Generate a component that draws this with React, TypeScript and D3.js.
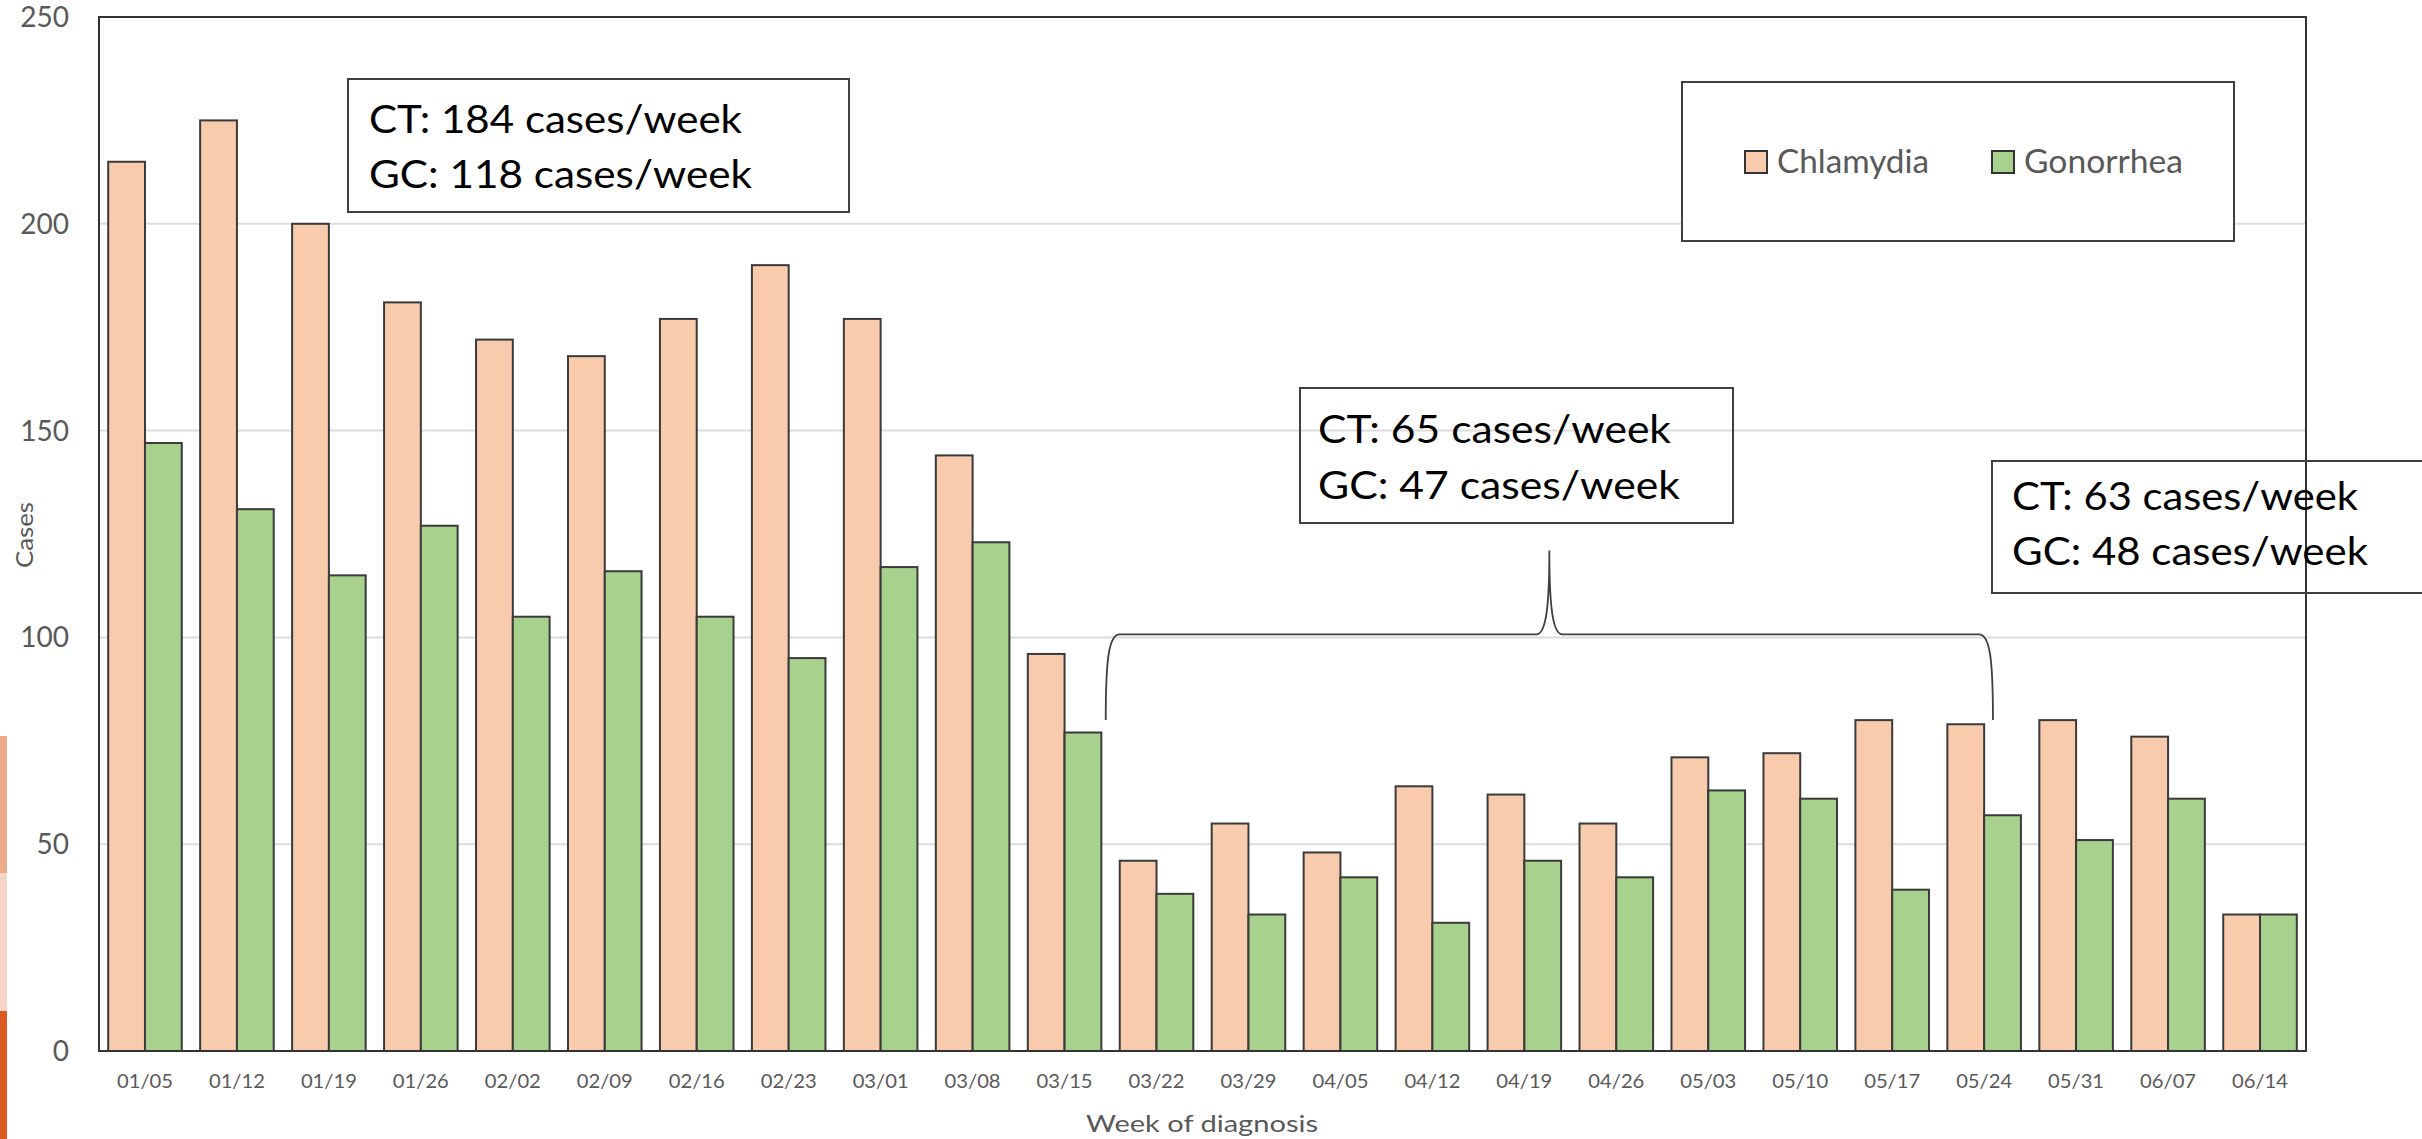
import React from "react";
import * as d3 from "d3";

const weeks = [
  "01/05", "01/12", "01/19", "01/26", "02/02", "02/09", "02/16", "02/23",
  "03/01", "03/08", "03/15", "03/22", "03/29", "04/05", "04/12", "04/19",
  "04/26", "05/03", "05/10", "05/17", "05/24", "05/31", "06/07", "06/14",
];
const chlamydia = [215, 225, 200, 181, 172, 168, 177, 190, 177, 144, 96, 46, 55, 48, 64, 62, 55, 71, 72, 80, 79, 80, 76, 33];
const gonorrhea = [147, 131, 115, 127, 105, 116, 105, 95, 117, 123, 77, 38, 33, 42, 31, 46, 42, 63, 61, 39, 57, 51, 61, 33];
const seriesNames = ["Chlamydia", "Gonorrhea"];
const seriesColors = ["#F8CBAD", "#A9D18E"];
const yTicks = [0, 50, 100, 150, 200, 250];

const W = 2422;
const H = 1139;
const FONT = "Lato, 'Open Sans', sans-serif";

export default function App() {
  const left = 99, right = 2306, top = 17, bottom = 1051;
  const x = d3.scaleBand<string>().domain(weeks).range([left, right]).paddingInner(0.2).paddingOuter(0.1);
  const xs = d3.scaleBand<string>().domain(seriesNames).range([0, x.bandwidth()]);
  const y = d3.scaleLinear().domain([0, 250]).range([bottom, top]);
  const series = [chlamydia, gonorrhea];

  // bracket over the low period
  const bx0 = (x("03/22") as number) - 14;
  const bx1 = (x("05/24") as number) + x.bandwidth() * 0.62;
  const bm = (bx0 + bx1) / 2;
  const by = y(100) - 3;
  const bb = y(80);
  const bt = y(121);
  const bp = d3.path();
  bp.moveTo(bx0, bb);
  bp.bezierCurveTo(bx0, by + 25, bx0 + 3, by, bx0 + 14, by);
  bp.lineTo(bm - 13, by);
  bp.bezierCurveTo(bm - 3, by, bm, by - 30, bm, bt);
  bp.bezierCurveTo(bm, by - 30, bm + 3, by, bm + 13, by);
  bp.lineTo(bx1 - 14, by);
  bp.bezierCurveTo(bx1 - 3, by, bx1, by + 25, bx1, bb);

  const annos = [
    { x: 348, y: 79, w: 501, h: 133, tx: 369, b1: 133, b2: 188, lines: ["CT: 184 cases/week", "GC: 118 cases/week"], lens: [373, 383] },
    { x: 1300, y: 388, w: 433, h: 135, tx: 1318, b1: 443, b2: 499, lines: ["CT: 65 cases/week", "GC: 47 cases/week"], lens: [353, 362] },
    { x: 1992, y: 461, w: 470, h: 132, tx: 2012, b1: 510, b2: 565, lines: ["CT: 63 cases/week", "GC: 48 cases/week"], lens: [346, 356] },
  ];

  const legendItems = [
    { name: seriesNames[0], color: seriesColors[0], sx: 1745, tx: 1777, len: 152 },
    { name: seriesNames[1], color: seriesColors[1], sx: 1992, tx: 2024, len: 159 },
  ];

  return (
    <svg width={W} height={H} style={{ position: "absolute", left: 0, top: 0, display: "block", background: "#fff" }} fontFamily={FONT}>
      <rect x={0} y={0} width={W} height={H} fill="#fff" />
      {/* left edge decoration */}
      <rect x={0} y={736} width={7} height={137} fill="#EBA98A" />
      <rect x={0} y={873} width={7} height={138} fill="#F6D6CB" />
      <rect x={0} y={1011} width={7} height={128} fill="#DC5A21" />

      {/* gridlines */}
      {yTicks.filter((t) => t > 0 && t < 250).map((t) => (
        <line key={t} x1={left} x2={right} y1={y(t)} y2={y(t)} stroke="#DCDCDC" strokeWidth={2} />
      ))}

      {/* bars */}
      {weeks.map((wk, i) => (
        <g key={wk}>
          {series.map((s, j) => (
            <rect
              key={j}
              x={(x(wk) as number) + (xs(seriesNames[j]) as number)}
              y={y(s[i])}
              width={xs.bandwidth()}
              height={y(0) - y(s[i])}
              fill={seriesColors[j]}
              stroke="#3a3a3a"
              strokeWidth={2}
            />
          ))}
        </g>
      ))}

      {/* frame */}
      <rect x={left} y={top} width={right - left} height={bottom - top} fill="none" stroke="#333" strokeWidth={2} />

      {/* y tick labels */}
      {yTicks.map((t) => (
        <text key={t} x={69} y={y(t)} dy="0.36em" textAnchor="end" fontSize={28} fill="#595959">{t}</text>
      ))}
      {/* x tick labels */}
      {weeks.map((wk) => (
        <text key={wk} x={(x(wk) as number) + x.bandwidth() / 2} y={1088} textAnchor="middle" fontSize={19} fill="#595959" textLength={56} lengthAdjust="spacingAndGlyphs">{wk}</text>
      ))}

      {/* axis titles */}
      <text x={1202} y={1132} textAnchor="middle" fontSize={24} fill="#595959" textLength={232} lengthAdjust="spacingAndGlyphs">Week of diagnosis</text>
      <text transform="translate(33,535) rotate(-90)" textAnchor="middle" fontSize={24} fill="#595959" textLength={66} lengthAdjust="spacingAndGlyphs">Cases</text>

      {/* bracket */}
      <path d={bp.toString()} fill="none" stroke="#404040" strokeWidth={1.8} />

      {/* annotation boxes */}
      {annos.map((a, i) => (
        <g key={i}>
          <rect x={a.x} y={a.y} width={a.w} height={a.h} fill="none" stroke="#404040" strokeWidth={2} />
          <text x={a.tx} y={a.b1} fontSize={38} fill="#000" textLength={a.lens[0]} lengthAdjust="spacingAndGlyphs">{a.lines[0]}</text>
          <text x={a.tx} y={a.b2} fontSize={38} fill="#000" textLength={a.lens[1]} lengthAdjust="spacingAndGlyphs">{a.lines[1]}</text>
        </g>
      ))}

      {/* legend */}
      <rect x={1682} y={82} width={552} height={159} fill="#fff" stroke="#404040" strokeWidth={2} />
      {legendItems.map((l) => (
        <g key={l.name}>
          <rect x={l.sx} y={151} width={22} height={22} fill={l.color} stroke="#333" strokeWidth={2} />
          <text x={l.tx} y={173} fontSize={33} fill="#595959" textLength={l.len} lengthAdjust="spacingAndGlyphs">{l.name}</text>
        </g>
      ))}
    </svg>
  );
}
